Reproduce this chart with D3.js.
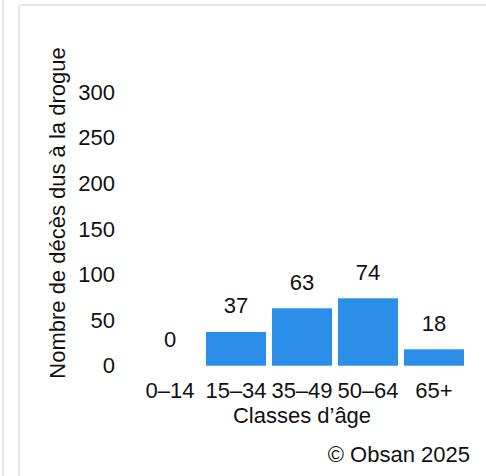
<!DOCTYPE html>
<html>
<head>
<meta charset="utf-8">
<script src="https://cdn.jsdelivr.net/npm/d3@7.9.0/dist/d3.min.js"></script>
<style>
  html, body { margin: 0; padding: 0; background: #fff; }
  svg { display: block; font-family: "Liberation Sans", Arial, Helvetica, sans-serif; }
</style>
</head>
<body>
<svg id="chart" width="486" height="476"></svg>
<script>
// Data
const ageClasses = ['0–14', '15–34', '35–49', '50–64', '65+'];
const deaths = [0, 37, 63, 74, 18];
const yTicks = [0, 50, 100, 150, 200, 250, 300];

const yLabel = 'Nombre de décès dus à la drogue';
const xLabel = 'Classes d’âge';
const credit = '© Obsan 2025';

const svg = d3.select('#chart');
const fontSize = 22;
const barColor = '#2b8fea';

// card outline and the thin line on the far left
svg.append('line')
  .attr('x1', 3).attr('x2', 3).attr('y1', 0).attr('y2', 476)
  .attr('stroke', '#e8e8e8').attr('stroke-width', 2);

svg.append('rect')
  .attr('x', 19).attr('y', 5)
  .attr('width', 480).attr('height', 490)
  .attr('rx', 2)
  .attr('fill', '#fff')
  .attr('stroke', '#e6e6e6').attr('stroke-width', 2);

const x = d3.scaleBand()
  .domain(ageClasses)
  .range([137, 467])
  .paddingInner(0.09)
  .paddingOuter(0.045);

const y = d3.scaleLinear()
  .domain([0, 300])
  .range([365.7, 92.4]);

// y tick labels (no axis line)
const yAxis = svg.append('g')
  .attr('transform', 'translate(115,0)')
  .call(d3.axisLeft(y).tickValues(yTicks).tickSize(0).tickPadding(0));
yAxis.select('.domain').remove();
yAxis.selectAll('text')
  .attr('font-size', fontSize)
  .attr('font-family', null)
  .attr('fill', '#111');

// x tick labels, baseline at ~398
const xAxis = svg.append('g')
  .attr('transform', 'translate(0,382.4)')
  .call(d3.axisBottom(x).tickSize(0).tickPadding(0));
xAxis.select('.domain').remove();
xAxis.selectAll('text')
  .attr('font-size', fontSize)
  .attr('font-family', null)
  .attr('fill', '#111');

// bars
svg.append('g')
  .selectAll('rect')
  .data(deaths)
  .join('rect')
  .attr('x', (d, i) => x(ageClasses[i]))
  .attr('y', (d) => y(d))
  .attr('width', x.bandwidth())
  .attr('height', (d) => y(0) - y(d))
  .attr('fill', barColor);

// value labels
svg.append('g')
  .selectAll('text')
  .data(deaths)
  .join('text')
  .attr('x', (d, i) => x(ageClasses[i]) + x.bandwidth() / 2)
  .attr('y', (d) => y(d) - 18.5)
  .attr('text-anchor', 'middle')
  .attr('font-size', fontSize)
  .attr('fill', '#111')
  .text((d) => d);

// axis titles
svg.append('text')
  .attr('transform', `translate(65,${213}) rotate(-90)`)
  .attr('text-anchor', 'middle')
  .attr('font-size', fontSize)
  .attr('fill', '#111')
  .text(yLabel);

svg.append('text')
  .attr('x', 302)
  .attr('y', 423)
  .attr('text-anchor', 'middle')
  .attr('font-size', fontSize)
  .attr('fill', '#111')
  .text(xLabel);

svg.append('text')
  .attr('x', 470)
  .attr('y', 462)
  .attr('text-anchor', 'end')
  .attr('font-size', fontSize)
  .attr('fill', '#111')
  .text(credit);
</script>
</body>
</html>
